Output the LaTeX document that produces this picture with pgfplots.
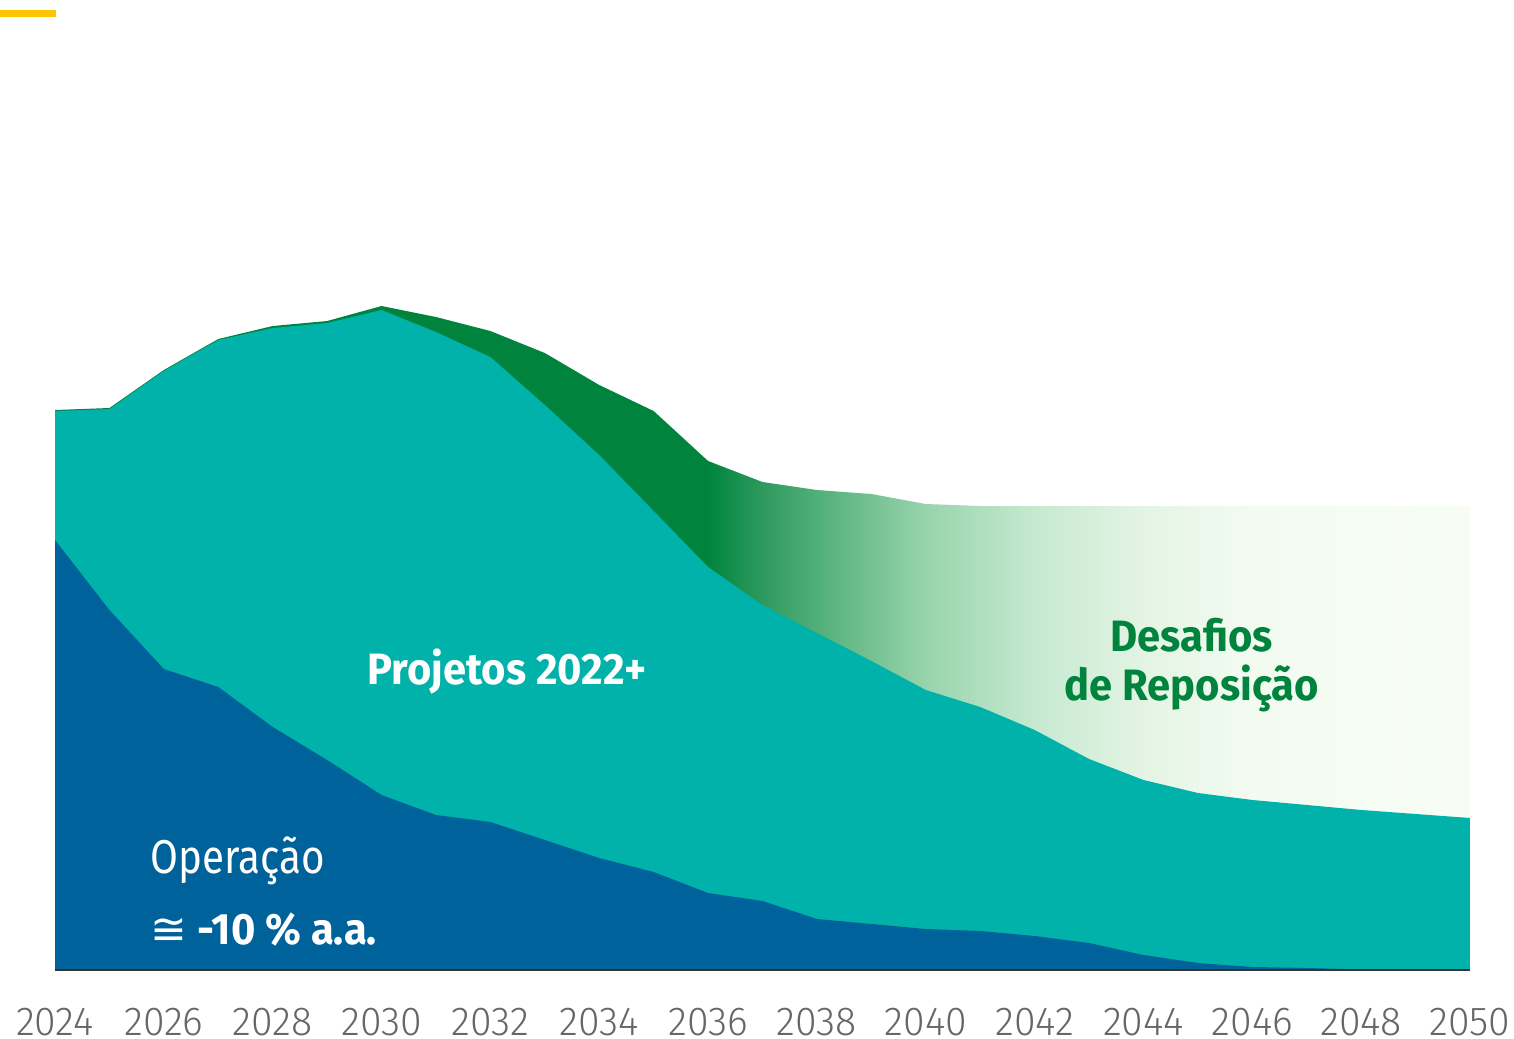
\documentclass[border=0pt]{standalone}
\usepackage{pgfplots}
\pgfplotsset{compat=1.18}
\usepackage{fontspec}
\setmainfont{Fira Sans}[FakeStretch=0.95]
\newfontfamily\regfont{Fira Sans}[FakeStretch=0.85]
\newfontfamily\tickfont{Fira Sans Light}[FakeStretch=0.97]
\newfontfamily\symfont{DejaVu Sans}

\definecolor{opblue}{HTML}{00629B}
\definecolor{projteal}{HTML}{00B2A9}
\definecolor{dgreen}{HTML}{00843D}
\definecolor{gA}{HTML}{2E9A5E}
\definecolor{gB}{HTML}{52AF78}
\definecolor{gC}{HTML}{98D4AD}
\definecolor{gD}{HTML}{C6E9D0}
\definecolor{gE}{HTML}{E3F4E4}
\definecolor{gF}{HTML}{F3FBF1}
\definecolor{gG}{HTML}{F7FDF5}
\definecolor{yellowbar}{HTML}{FFC600}
\definecolor{ticktext}{HTML}{666666}

\pgfdeclarehorizontalshading{greenfade}{100bp}{color(0bp)=(dgreen); color(48.08bp)=(dgreen); color(50bp)=(gA); color(51.92bp)=(gB); color(55.77bp)=(gC); color(59.62bp)=(gD); color(63.46bp)=(gE); color(67.31bp)=(gF); color(75bp)=(gG); color(100bp)=(gG)}

\pgfplotstableread{
year total
2024 56.0
2025 56.2
2026 60.0
2027 63.1
2028 64.4
2029 64.9
2030 66.4
2031 65.3
2032 63.9
2033 61.7
2034 58.5
2035 55.9
2036 50.9
2037 48.8
2038 48.0
2039 47.6
2040 46.6
2041 46.4
2042 46.4
2043 46.4
2044 46.4
2045 46.4
2046 46.4
2047 46.4
2048 46.4
2049 46.4
2050 46.4
}\totaltab

\pgfplotstableread{
year proj
2024 55.9
2025 56.1
2026 59.9
2027 63.0
2028 64.2
2029 64.7
2030 66.0
2031 63.8
2032 61.3
2033 56.5
2034 51.5
2035 45.9
2036 40.3
2037 36.5
2038 33.7
2039 30.9
2040 28.0
2041 26.3
2042 24.0
2043 21.1
2044 19.0
2045 17.7
2046 17.0
2047 16.5
2048 16.0
2049 15.6
2050 15.2
}\projtab

\pgfplotstableread{
year op
2024 43.0
2025 36.0
2026 30.1
2027 28.3
2028 24.3
2029 21.0
2030 17.5
2031 15.5
2032 14.8
2033 13.0
2034 11.2
2035 9.8
2036 7.7
2037 6.9
2038 5.1
2039 4.6
2040 4.1
2041 3.9
2042 3.4
2043 2.7
2044 1.5
2045 0.7
2046 0.3
2047 0.2
2048 0.05
2049 0
2050 0
}\optab

\begin{document}
\begin{tikzpicture}
\useasboundingbox (0,0) rectangle (15.14,10.39);
\fill[yellowbar] (0,10.22) rectangle (0.56,10.29);
\begin{axis}[
  at={(0.55cm,0.69cm)}, anchor=south west,
  scale only axis, width=14.15cm, height=9.70cm,
  xmin=2024, xmax=2050, ymin=0, ymax=97,
  axis x line*=bottom, axis y line=none,
  x axis line style={draw=black!80, line width=0.8pt},
  xtick={2024,2026,...,2050},
  xticklabels={2024,2026,2028,2030,2032,2034,2036,2038,2040,2042,2044,2046,2048,2050},
  major tick length=0pt,
  xticklabel style={font=\tickfont\fontsize{11.5}{12}\selectfont, text=ticktext, anchor=base, yshift=-0.655cm},
  axis on top,
  clip=false,
]
\addplot[draw=none, shade, shading=greenfade] table[x=year,y=total] {\totaltab} \closedcycle;
\addplot[draw=none, fill=projteal] table[x=year,y=proj] {\projtab} \closedcycle;
\addplot[draw=none, fill=opblue] table[x=year,y=op] {\optab} \closedcycle;

\node[anchor=base west, text=white, font=\regfont\fontsize{13.5}{14}\selectfont, inner sep=0pt] at (axis cs:2025.75,9.6) {Operação};
\node[anchor=base west, text=white, font=\bfseries\fontsize{12.5}{13}\selectfont, inner sep=0pt] at (axis cs:2025.75,2.5) {{\symfont\mdseries ≅} -10 \% a.a.};
\node[anchor=base west, text=white, font=\bfseries\fontsize{12.5}{13}\selectfont, inner sep=0pt] at (axis cs:2029.73,28.6) {Projetos 2022+};
\node[anchor=base, text=dgreen, font=\bfseries\fontsize{12.5}{13}\selectfont, inner sep=0pt] at (axis cs:2044.89,31.9) {Desafios};
\node[anchor=base, text=dgreen, font=\bfseries\fontsize{12.5}{13}\selectfont, inner sep=0pt] at (axis cs:2044.89,26.9) {de Reposição};
\end{axis}
\end{tikzpicture}
\end{document}
